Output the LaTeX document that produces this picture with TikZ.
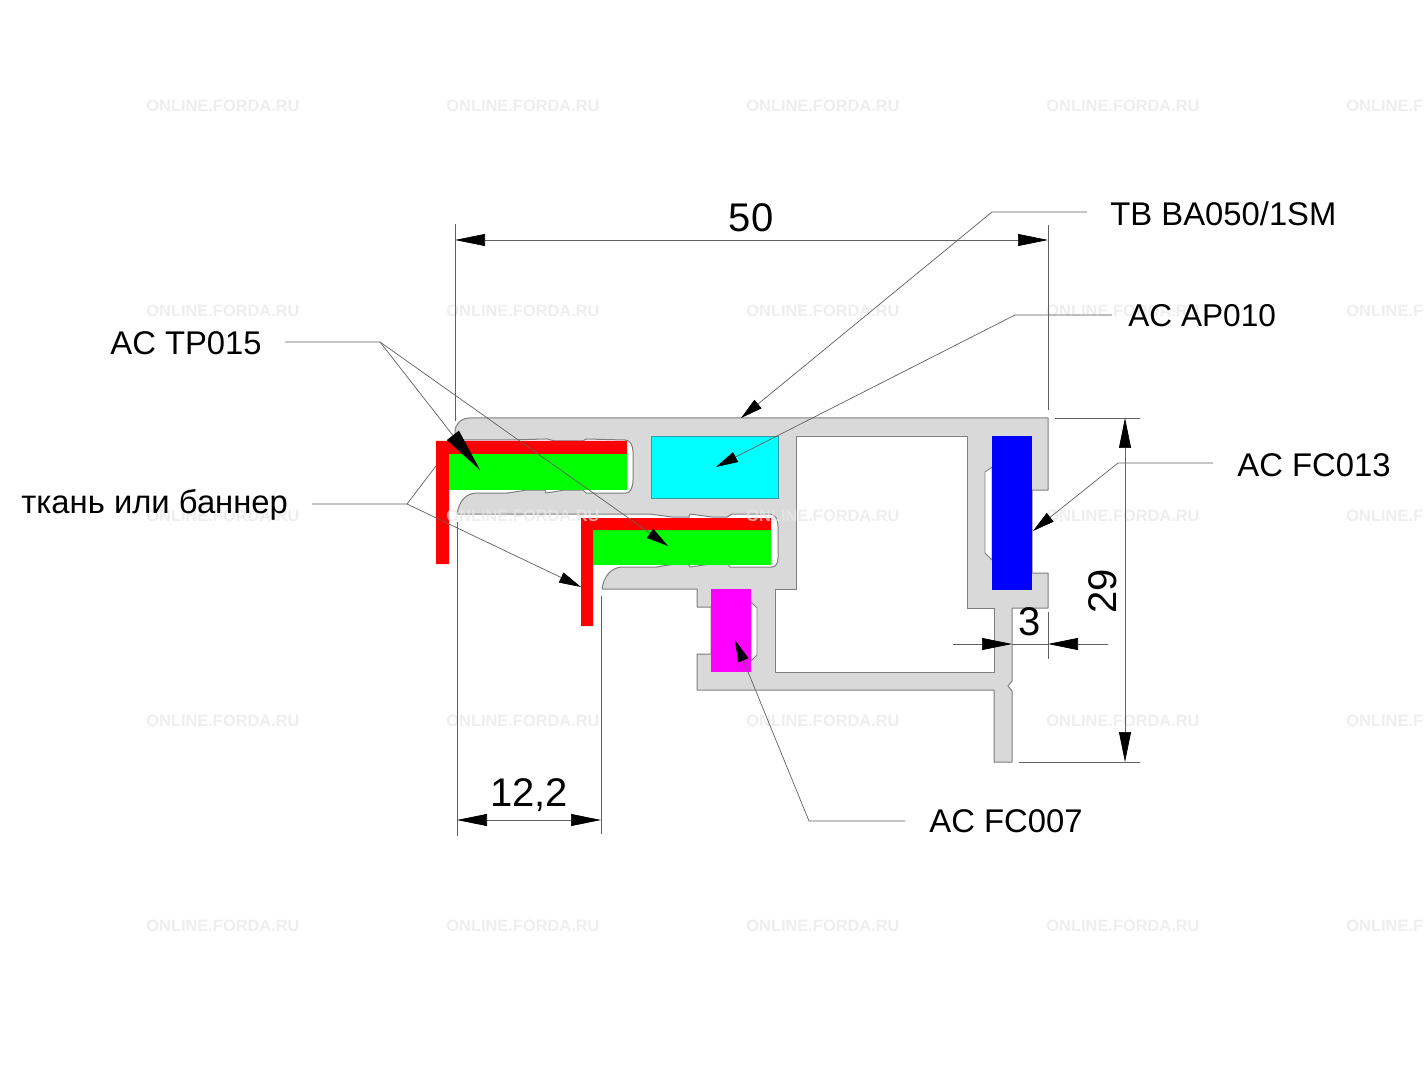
\documentclass[tikz,border=0pt]{standalone}
\usepackage{fontspec}
\setmainfont{Liberation Sans}
\usetikzlibrary{arrows.meta}
\definecolor{alu}{HTML}{D9D9D9}
\definecolor{edge}{HTML}{7F7F7F}
\definecolor{thin}{HTML}{606060}
\definecolor{cyanpart}{HTML}{00FFFF}
\definecolor{cyanedge}{HTML}{2E9FA8}
\definecolor{magpart}{HTML}{FF00FF}
\definecolor{bluepart}{HTML}{0000FF}
\definecolor{greenpart}{HTML}{00FF00}
\definecolor{redpart}{HTML}{FF0000}
\definecolor{wmcol}{HTML}{E8E8E8}
\tikzset{
  x=0.5pt,y=-0.5pt,
  alu/.style={fill=alu,draw=edge,line width=0.5pt,line join=round},
  hole/.style={fill=white,draw=edge,line width=0.4pt,line join=round},
  dimline/.style={draw=thin,line width=0.35pt},
  dimarrow/.style={draw=thin,line width=0.35pt,{Triangle[length=15pt,width=6pt,black]}-{Triangle[length=15pt,width=6pt,black]}},
  dimhead/.style={draw=thin,line width=0.35pt,-{Triangle[length=15pt,width=6pt,black]}},
  leader/.style={draw=thin,line width=0.35pt,-{Triangle[length=11pt,width=5.5pt,black]}},
  bigleader/.style={draw=thin,line width=0.35pt,-{Triangle[length=22pt,width=7.5pt,black]}},
  call/.style={font=\fontsize{16.4}{18}\selectfont,text=black,inner sep=0pt,anchor=west},
  dimtext/.style={font=\fontsize{20}{22}\selectfont,text=black,inner sep=0pt},
  wm/.style={font=\fontsize{8.2}{10}\selectfont\bfseries,text=wmcol,opacity=0.7,inner sep=0pt}
}
\begin{document}
\begin{tikzpicture}
\useasboundingbox (0,0) rectangle (1424,1080);
\fill[white] (0,0) rectangle (1424,1080);
% profile
\draw[alu] (470,418) -- (1048,418) -- (1048,490) -- (1032,490) -- (1032,573) -- (1048,573) -- (1048,608)
  -- (1012,608) -- (1012,681) -- (1008,686) -- (1012,691) -- (1012,762) -- (994,762) -- (994,690)
  -- (697,690) -- (697,654) -- (711,654) -- (711,607) -- (697,607) -- (697,589) -- (602,589)
  .. controls (604,575) and (612,567) .. (623,567) -- (657,567) -- (687,562) -- (690,567) -- (726,562) -- (730,567) -- (772,567)
  .. controls (776,567) and (778,563) .. (778,558) -- (778,527)
  .. controls (778,519) and (775,514) .. (770,514) -- (732,514) -- (727,517) -- (712,517) -- (690,514) -- (689,517) -- (672,517) -- (650,514) -- (457,514)
  .. controls (459,501) and (466,493) .. (477,493) -- (508,493) -- (527,490) -- (545,490) -- (546,493) -- (565,490) -- (583,490) -- (586,493) -- (626,493)
  .. controls (630,493) and (633,488) .. (633,480) -- (633,452)
  .. controls (633,445) and (630,440) .. (625,440) -- (586,439) -- (583,441) -- (555,441) -- (547,439) -- (545,439) -- (510,440) -- (460,440) -- (455,441) -- (455,432)
  .. controls (455,424) and (461,418) .. (470,418) -- cycle;
% window
\draw[hole] (796,436) -- (967,436) -- (967,608) -- (994,608) -- (994,672) -- (775,672) -- (775,589) -- (796,589) -- cycle;
% slots
\draw[hole] (751,602) -- (757,608) -- (757,655) -- (751,661) -- cycle;
\draw[hole] (992,467) -- (985,472) -- (985,553) -- (992,560) -- cycle;
% inserts
\fill[greenpart] (449,454) rectangle (627,490);
\fill[greenpart] (592,530) rectangle (771,565);
\fill[redpart] (436,441) -- (627,441) -- (627,454) -- (449,454) -- (449,564) -- (436,564) -- cycle;
\fill[redpart] (581,518) -- (771,518) -- (771,530) -- (593,530) -- (593,626) -- (581,626) -- cycle;
\draw[fill=cyanpart,draw=cyanedge,line width=0.4pt] (651,436) rectangle (778,498);
\fill[magpart] (711,589) rectangle (751,672);
\fill[bluepart] (992,436) rectangle (1032,590);
% watermark
\foreach \yy in {106,311,516,721,926}
  \foreach \xx in {223,523,823,1123,1423}
    \node[wm] at (\xx,\yy) {ONLINE.FORDA.RU};
% dimension extension lines
\coordinate (e50l) at (455,224); \coordinate (e50lb) at (455,421);
\coordinate (e50r) at (1048,225); \coordinate (e50rb) at (1048,410);
\coordinate (d50l) at (455,240); \coordinate (d50r) at (1048,240);
\draw[dimline] (e50l) -- (e50lb);
\draw[dimline] (e50r) -- (e50rb);
\draw[dimarrow] (d50l) -- (d50r);
\node[dimtext] (t50) at (751,218) {50};
\coordinate (e12l) at (457,522); \coordinate (e12lb) at (457,836);
\coordinate (e12r) at (601,596); \coordinate (e12rb) at (601,834);
\coordinate (d12l) at (457,820); \coordinate (d12r) at (601,820);
\draw[dimline] (e12l) -- (e12lb);
\draw[dimline] (e12r) -- (e12rb);
\draw[dimarrow] (d12l) -- (d12r);
\node[dimtext] (t12) at (529,795) {12,2};
\coordinate (e29t) at (1055,418); \coordinate (e29te) at (1140,418);
\coordinate (e29b) at (1019,762); \coordinate (e29be) at (1140,762);
\coordinate (d29t) at (1125,418); \coordinate (d29b) at (1125,762);
\draw[dimline] (e29t) -- (e29te);
\draw[dimline] (e29b) -- (e29be);
\draw[dimarrow] (d29t) -- (d29b);
\node[dimtext,rotate=90] (t29) at (1103,591) {29};
\coordinate (e3t) at (1048,612); \coordinate (e3b) at (1048,659);
\coordinate (d3a) at (953,644); \coordinate (d3b) at (1012,644);
\coordinate (d3c) at (1108,644); \coordinate (d3d) at (1048,644);
\draw[dimline] (e3t) -- (e3b);
\draw[dimhead] (d3a) -- (d3b);
\draw[dimhead] (d3c) -- (d3d);
\draw[dimline] (d3b) -- (d3d);
\node[dimtext] (t3) at (1030,622) {3};
% callouts
\node[call] (tb) at (1110,214) {TB BA050/1SM};
\node[call,font=\fontsize{15.8}{18}\selectfont] (ap) at (1128,316) {AC AP010};
\node[call] (fc13) at (1237,465) {AC FC013};
\node[call] (fc7) at (929,821) {AC FC007};
\node[call] (tp) at (110,343) {AC TP015};
\node[call] (tk) at (21,505) {ткань или баннер};
\coordinate (ltb) at (1087,212); \coordinate (ltbk) at (992,212); \coordinate (atb) at (741,418);
\coordinate (lap) at (1112,315); \coordinate (lapk) at (1015,315); \coordinate (aap) at (716,467);
\coordinate (lf13) at (1213,463); \coordinate (lf13k) at (1118,463); \coordinate (af13) at (1033,531);
\coordinate (lf7) at (905,821); \coordinate (lf7k) at (809,821); \coordinate (af7) at (735,640);
\coordinate (ltp) at (285,342); \coordinate (ltpk) at (380,342); \coordinate (atp1) at (480,470); \coordinate (atp2) at (668,546);
\coordinate (ltk) at (312,504); \coordinate (ltkk) at (407,504); \coordinate (atk1) at (436,466); \coordinate (atk2) at (581,587);
\draw[leader] (ltb) -- (ltbk) -- (atb);
\draw[leader] (lap) -- (lapk) -- (aap);
\draw[leader] (lf13) -- (lf13k) -- (af13);
\draw[leader] (lf7) -- (lf7k) -- (af7);
\draw[bigleader] (ltp) -- (ltpk) -- (atp1);
\draw[leader] (ltpk) -- (atp2);
\draw[dimline] (ltk) -- (ltkk) -- (atk1);
\draw[leader] (ltkk) -- (atk2);
\end{tikzpicture}
\end{document}
